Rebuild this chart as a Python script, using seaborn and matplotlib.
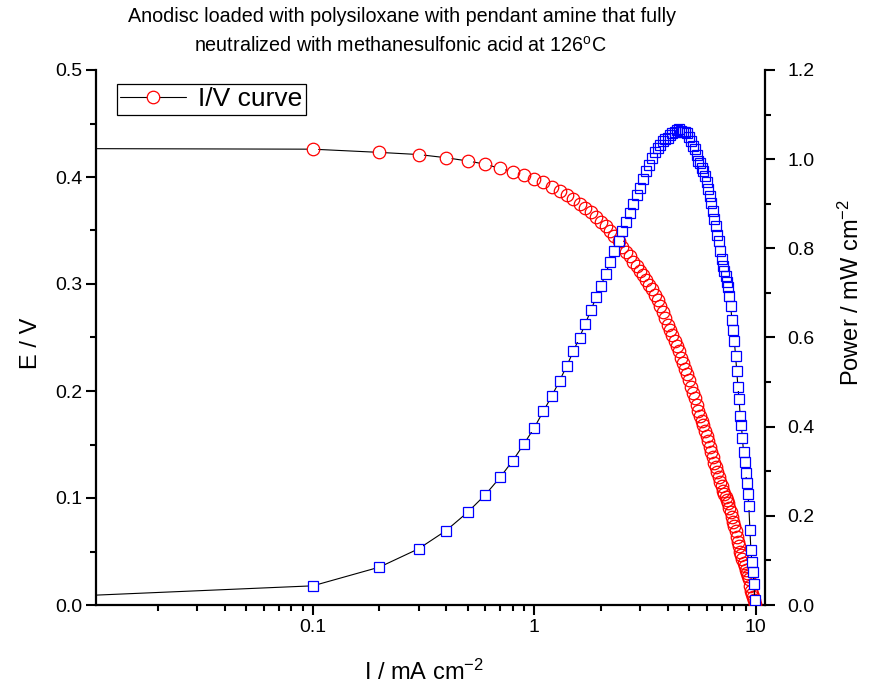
import numpy as np
import pandas as pd
import matplotlib
matplotlib.use("Agg")
import matplotlib.pyplot as plt
import seaborn as sns
from matplotlib.ticker import MultipleLocator, FuncFormatter, LogLocator, NullFormatter
from matplotlib.lines import Line2D

# ---- data ----
current = [0.001,
           0.1, 0.2, 0.3, 0.4, 0.5, 0.6, 0.7, 0.8, 0.9, 1.0,
           1.1, 1.2, 1.3, 1.4, 1.5, 1.6, 1.7, 1.8, 1.9, 2.0,
           2.1, 2.2, 2.3, 2.4, 2.5, 2.6, 2.7, 2.8, 2.9, 3.0,
           3.1, 3.2, 3.3, 3.4, 3.5, 3.6, 3.7, 3.8, 3.9, 4.0,
           4.1, 4.2, 4.3, 4.4, 4.5, 4.6, 4.7, 4.8, 4.9, 5.0,
           5.1, 5.2, 5.3, 5.4, 5.5, 5.6, 5.7, 5.8, 5.9, 6.0,
           6.1, 6.2, 6.3, 6.4, 6.5, 6.6, 6.7, 6.8, 6.9, 7.0,
           7.1, 7.2, 7.3, 7.4, 7.5, 7.6, 7.7, 7.8, 7.9, 8.0,
           8.1, 8.2, 8.3, 8.4, 8.5, 8.6, 8.7, 8.8, 8.9, 9.0,
           9.1, 9.2, 9.3, 9.4, 9.5, 9.6, 9.7, 9.8, 9.9]

voltage = [0.427,
           0.426, 0.423, 0.421, 0.418, 0.415, 0.412, 0.408, 0.405, 0.402, 0.398,
           0.395, 0.391, 0.387, 0.383, 0.379, 0.375, 0.371, 0.367, 0.363, 0.358,
           0.354, 0.350, 0.345, 0.340, 0.335, 0.330, 0.326, 0.321, 0.317, 0.312,
           0.308, 0.304, 0.299, 0.295, 0.290, 0.285, 0.279, 0.274, 0.268, 0.262,
           0.257, 0.252, 0.247, 0.242, 0.237, 0.231, 0.226, 0.221, 0.216, 0.210,
           0.204, 0.198, 0.193, 0.187, 0.181, 0.177, 0.172, 0.168, 0.163, 0.158,
           0.153, 0.148, 0.143, 0.138, 0.133, 0.129, 0.124, 0.120, 0.115, 0.111,
           0.107, 0.104, 0.101, 0.098, 0.095, 0.091, 0.087, 0.082, 0.078, 0.074,
           0.069, 0.064, 0.059, 0.055, 0.050, 0.047, 0.043, 0.039, 0.036, 0.033,
           0.030, 0.027, 0.024, 0.018, 0.013, 0.010, 0.0075, 0.0048, 0.0011]

power = [0.0004,
         0.043, 0.085, 0.126, 0.167, 0.208, 0.247, 0.286, 0.324, 0.362, 0.398,
         0.435, 0.469, 0.503, 0.536, 0.569, 0.600, 0.631, 0.661, 0.690, 0.716,
         0.743, 0.770, 0.794, 0.816, 0.838, 0.858, 0.880, 0.899, 0.919, 0.936,
         0.955, 0.973, 0.987, 1.003, 1.015, 1.026, 1.032, 1.041, 1.045, 1.048,
         1.054, 1.058, 1.062, 1.065, 1.067, 1.063, 1.062, 1.061, 1.058, 1.050,
         1.040, 1.030, 1.023, 1.010, 0.996, 0.991, 0.980, 0.974, 0.962, 0.948,
         0.933, 0.918, 0.901, 0.883, 0.865, 0.851, 0.831, 0.816, 0.794, 0.777,
         0.760, 0.749, 0.737, 0.725, 0.713, 0.692, 0.670, 0.640, 0.616, 0.592,
         0.559, 0.525, 0.490, 0.462, 0.425, 0.404, 0.374, 0.343, 0.320, 0.297,
         0.273, 0.248, 0.223, 0.169, 0.124, 0.096, 0.073, 0.047, 0.011]

title_lines = ["Anodisc loaded with polysiloxane with pendant amine that fully",
               "neutralized with methanesulfonic acid at 126$^{\\mathregular{o}}$C"]
legend_label = "I/V curve"
x_label = "I / mA cm$^{\\mathregular{-2}}$"
y_label = "E / V"
y2_label = "Power / mW cm$^{\\mathregular{-2}}$"

df = pd.DataFrame({"I": current, "E": voltage, "P": power})

sns.set_style("ticks")
plt.rcParams.update({
    "font.family": ["Liberation Sans", "DejaVu Sans"],
    "mathtext.default": "regular",
    "axes.edgecolor": "black",
    "axes.labelcolor": "black",
    "text.color": "black",
    "xtick.color": "black",
    "ytick.color": "black",
})

W, H = 875, 688
fig = plt.figure(figsize=(W / 100, H / 100), dpi=100)
L, R, T, B = 96, 765, 70, 605
ax = fig.add_axes([L / W, 1 - B / H, (R - L) / W, (B - T) / H])
ax2 = ax.twinx()

RED, BLUE = "#FF0000", "#0000FF"

# E vs I
sns.lineplot(data=df, x="I", y="E", ax=ax, color="black", linewidth=0.8,
             sort=False, estimator=None, legend=False, zorder=2)
sns.scatterplot(data=df, x="I", y="E", ax=ax, color="white", s=62,
                edgecolor="none", linewidth=0, legend=False, zorder=3)
sns.lineplot(data=df, x="I", y="E", ax=ax, linestyle="", marker="o",
             markersize=9.0, markerfacecolor="none", markeredgecolor=RED,
             markeredgewidth=0.9, sort=False, estimator=None, legend=False, zorder=4)

# Power vs I
sns.lineplot(data=df, x="I", y="P", ax=ax2, color="black", linewidth=0.8,
             sort=False, estimator=None, legend=False, zorder=2)
sns.scatterplot(data=df, x="I", y="P", ax=ax2, color="white", marker="s", s=50,
                edgecolor="none", linewidth=0, legend=False, zorder=3)
sns.lineplot(data=df, x="I", y="P", ax=ax2, linestyle="", marker="s",
             markersize=7.7, markerfacecolor="none", markeredgecolor=BLUE,
             markeredgewidth=0.9, sort=False, estimator=None, legend=False, zorder=4)

# axes
ax.set_xscale("log")
ax.set_xlim(0.0105, 11.0)
ax.set_ylim(0, 0.5)
ax2.set_ylim(0, 1.2)

ax.xaxis.set_major_locator(LogLocator(base=10, numticks=10))
ax.xaxis.set_minor_locator(LogLocator(base=10, subs=np.arange(2, 10), numticks=20))
ax.xaxis.set_minor_formatter(NullFormatter())
ax.xaxis.set_major_formatter(FuncFormatter(lambda v, p: f"{v:g}"))

ax.yaxis.set_major_locator(MultipleLocator(0.1))
ax.yaxis.set_minor_locator(MultipleLocator(0.05))
ax.yaxis.set_major_formatter(FuncFormatter(lambda v, p: f"{v:.1f}"))
ax2.yaxis.set_major_locator(MultipleLocator(0.2))
ax2.yaxis.set_minor_locator(MultipleLocator(0.1))
ax2.yaxis.set_major_formatter(FuncFormatter(lambda v, p: f"{v:.1f}"))

for a in (ax, ax2):
    a.spines["top"].set_visible(False)
    for s in a.spines.values():
        s.set_linewidth(1.6)
    a.tick_params(which="major", direction="out", length=7, width=1.5,
                  labelsize=14, pad=3)
    a.tick_params(which="minor", direction="out", length=4, width=1.5)
ax2.tick_params(axis="y", which="major", pad=9)
ax.spines["right"].set_visible(False)
ax2.spines["left"].set_visible(False)
ax2.spines["bottom"].set_visible(False)

ax.set_xlabel(x_label, fontsize=17)
ax.xaxis.set_label_coords(0.49, -0.102)
ax.set_ylabel(y_label, fontsize=17)
ax.yaxis.set_label_coords(-0.08, 0.49)
ax2.set_ylabel(y2_label, fontsize=17)
ax2.yaxis.set_label_coords(1.11, 0.585)

# legend
handle = Line2D([], [], color="black", linewidth=0.8, marker="o", markersize=9.0,
                markerfacecolor="white", markeredgecolor=RED, markeredgewidth=0.9)
leg = ax.legend(handles=[handle], labels=[legend_label], loc="upper left",
                bbox_to_anchor=(0.031, 0.974), borderaxespad=0, fontsize=19,
                frameon=True, fancybox=False, framealpha=1, edgecolor="black",
                handlelength=2.5, handletextpad=0.45, borderpad=0.13)
leg.get_frame().set_linewidth(0.9)
leg.set_zorder(10)

# title (two centred lines)
tfam = ["Liberation Sans", "DejaVu Sans"]
fig.text(402 / W, 1 - 17 / H, title_lines[0], ha="center", va="center",
         fontsize=14.2, family=tfam)
fig.text(400 / W, 1 - 46 / H, title_lines[1], ha="center", va="center",
         fontsize=14.2, family=tfam)

fig.savefig("out.png", dpi=100)
